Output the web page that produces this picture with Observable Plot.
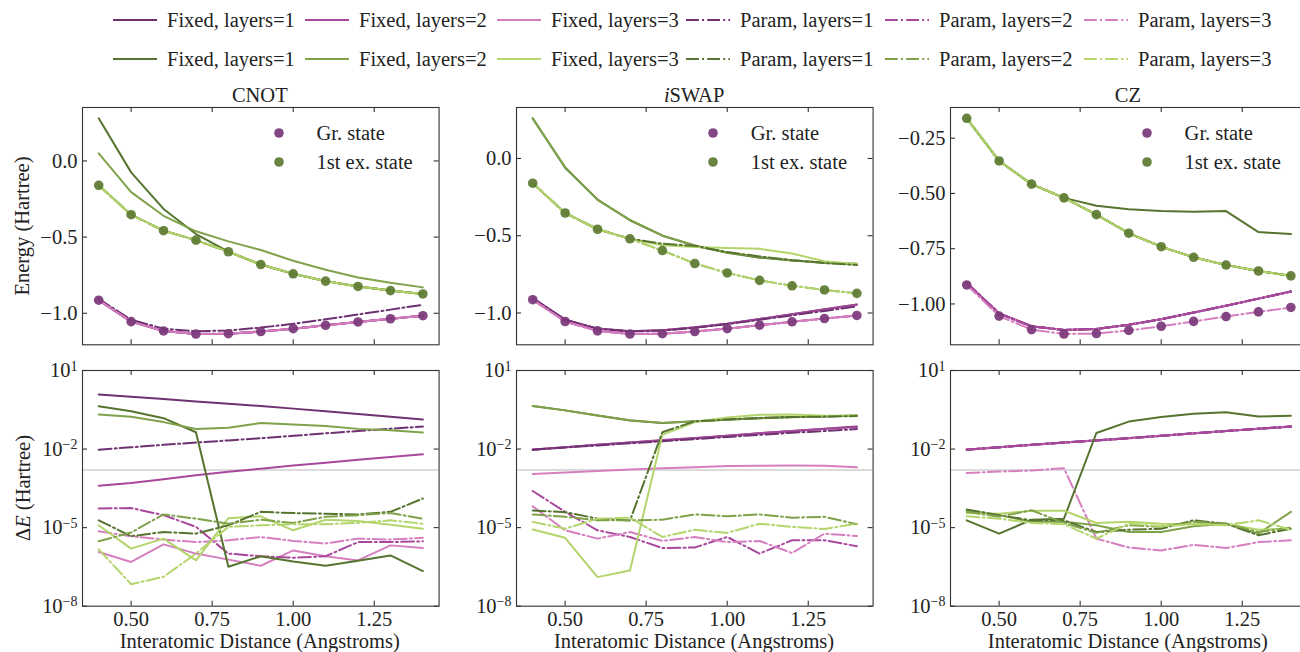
<!DOCTYPE html>
<html>
<head>
<meta charset="utf-8">
<script src="https://cdn.jsdelivr.net/npm/d3@7"></script>
<script src="https://cdn.jsdelivr.net/npm/@observablehq/plot@0.6"></script>
<style>
  html, body { margin: 0; padding: 0; background: #fff; overflow: hidden; }
  #fig { position: relative; width: 1300px; height: 652px; overflow: hidden;
         font-family: "Liberation Serif", "DejaVu Serif", serif; color: #222; font-size: 20.5px; }
  .abs { position: absolute; white-space: nowrap; }
  .center { transform: translate(-50%, -50%); }
  .leg { position: absolute; display: flex; align-items: center; height: 24px; white-space: nowrap; }
  .leg svg { margin-right: 10px; }
  .dotleg { position: absolute; display: flex; align-items: center; height: 24px; white-space: nowrap; }
</style>
</head>
<body>
<div id="fig"></div>
<script>
// ---------------- data ----------------
const distance = [0.4, 0.5, 0.6, 0.7, 0.8, 0.9, 1.0, 1.1, 1.2, 1.3, 1.4];
const gateNames = ["CNOT", "iSWAP", "CZ"];
const ansatzLabels = ["Fixed, layers=1", "Fixed, layers=2", "Fixed, layers=3",
                      "Param, layers=1", "Param, layers=2", "Param, layers=3"];
const groundColors = ["#6e3171", "#a8489c", "#d67fc0", "#6e3171", "#a8489c", "#d67fc0"];
const excitedColors = ["#56742f", "#7fa24a", "#b3d56c", "#56742f", "#7fa24a", "#b3d56c"];
const stateLabels = ["Gr. state", "1st ex. state"];
const stateDotColors = ["#7a3779", "#5b7a30"];
const xTicks = [0.5, 0.75, 1.0, 1.25];
const energyTicksCNOT = [0, -0.5, -1.0];
const energyTicksISWAP = [0, -0.5, -1.0];
const energyTicksCZ = [-0.25, -0.5, -0.75, -1.0];
const deltaTicks = [10, 1e-2, 1e-5, 1e-8];
const deltaDomain = [1e-8, 10];
const chemicalAccuracy = 1.6e-3;

// exact energies (Hartree)
const exactGround  = [-0.914, -1.055, -1.116, -1.136, -1.134, -1.120, -1.101, -1.079, -1.057, -1.036, -1.016];
const exactExcited = [-0.160, -0.353, -0.458, -0.520, -0.596, -0.680, -0.741, -0.789, -0.824, -0.851, -0.873];

// VQE energies that visibly differ from the exact curves (top row)
const cnotGroundParam1   = [-0.905, -1.043, -1.101, -1.118, -1.113, -1.094, -1.069, -1.039, -1.008, -0.976, -0.944];
const cnotExcitedFixed1  = [0.280, -0.075, -0.315, -0.480, -0.596, -0.680, -0.741, -0.789, -0.824, -0.851, -0.873];
const cnotExcitedFixed2  = [0.050, -0.205, -0.360, -0.462, -0.528, -0.585, -0.655, -0.714, -0.765, -0.800, -0.830];
const iswapGroundFixed1  = [-0.905, -1.043, -1.101, -1.118, -1.112, -1.094, -1.069, -1.039, -1.008, -0.976, -0.945];
const iswapGroundFixed2  = [-0.904, -1.043, -1.101, -1.118, -1.112, -1.093, -1.069, -1.039, -1.008, -0.977, -0.946];
const iswapGroundParam1  = [-0.905, -1.044, -1.102, -1.119, -1.114, -1.096, -1.072, -1.044, -1.015, -0.987, -0.958];
const iswapExcitedFixed1 = [0.260, -0.060, -0.266, -0.400, -0.500, -0.563, -0.610, -0.642, -0.660, -0.674, -0.682];
const iswapExcitedFixed2 = [0.258, -0.056, -0.268, -0.397, -0.498, -0.566, -0.608, -0.638, -0.659, -0.676, -0.683];
const iswapExcitedFixed3 = [-0.160, -0.353, -0.458, -0.520, -0.562, -0.573, -0.579, -0.585, -0.615, -0.665, -0.683];
const iswapExcitedParam1 = [-0.160, -0.353, -0.458, -0.520, -0.552, -0.565, -0.606, -0.634, -0.658, -0.677, -0.690];
const czGroundUpper      = [-0.905, -1.043, -1.101, -1.118, -1.113, -1.094, -1.069, -1.039, -1.008, -0.976, -0.944];
const czExcitedFixed1    = [-0.160, -0.353, -0.458, -0.520, -0.556, -0.572, -0.580, -0.583, -0.580, -0.675, -0.684];

// per gate: [Fixed1, Fixed2, Fixed3, Param1, Param2, Param3]
const cnotEnergyGround   = [exactGround, exactGround, exactGround, cnotGroundParam1, exactGround, exactGround];
const cnotEnergyExcited  = [cnotExcitedFixed1, cnotExcitedFixed2, exactExcited, exactExcited, exactExcited, exactExcited];
const iswapEnergyGround  = [iswapGroundFixed1, iswapGroundFixed2, exactGround, iswapGroundParam1, exactGround, exactGround];
const iswapEnergyExcited = [iswapExcitedFixed1, iswapExcitedFixed2, iswapExcitedFixed3, iswapExcitedParam1, exactExcited, exactExcited];
const czEnergyGround     = [czGroundUpper, czGroundUpper, czGroundUpper, czGroundUpper, czGroundUpper, exactGround];
const czEnergyExcited    = [czExcitedFixed1, exactExcited, exactExcited, exactExcited, exactExcited, exactExcited];

// energy errors ΔE (Hartree), bottom row
const cnotDeltaGround = [
  [1.21, 1.0, 0.81, 0.66, 0.54, 0.44, 0.35, 0.28, 0.22, 0.17, 0.135],
  [4.0e-4, 5.1e-4, 7.1e-4, 1.0e-3, 1.35e-3, 1.78e-3, 2.34e-3, 3.0e-3, 3.9e-3, 5.0e-3, 6.3e-3],
  [1.17e-6, 4.9e-7, 2.3e-6, 1.02e-6, 6.0e-7, 3.5e-7, 1.35e-6, 8.1e-7, 5.6e-7, 2.1e-6, 1.66e-6],
  [9.5e-3, 1.17e-2, 1.45e-2, 1.78e-2, 2.14e-2, 2.6e-2, 3.2e-2, 4.0e-2, 4.9e-2, 6.0e-2, 7.2e-2],
  [5.4e-5, 5.6e-5, 3.0e-5, 1.07e-5, 1.02e-6, 8.1e-7, 7.1e-7, 8.1e-7, 2.8e-6, 2.8e-6, 3.0e-6],
  [7.2e-6, 4.7e-6, 3.5e-6, 2.8e-6, 3.3e-6, 4.4e-6, 3.1e-6, 2.5e-6, 3.8e-6, 3.5e-6, 4.1e-6]
];
const cnotDeltaExcited = [
  [0.435, 0.28, 0.151, 0.044, 3.2e-7, 8.1e-7, 5.1e-7, 3.5e-7, 5.4e-7, 8.7e-7, 2.2e-7],
  [0.209, 0.17, 0.107, 0.058, 0.065, 0.098, 0.087, 0.076, 0.059, 0.052, 0.043],
  [1.23e-5, 1.58e-6, 3.8e-6, 5.6e-7, 2.3e-5, 2.7e-5, 7.9e-6, 2.0e-5, 1.78e-5, 1.29e-5, 9.1e-6],
  [1.9e-5, 4.7e-6, 6.8e-6, 5.9e-6, 1.23e-5, 4.0e-5, 3.6e-5, 3.4e-5, 3.2e-5, 4.0e-5, 1.29e-4],
  [3.0e-6, 6.5e-6, 3.2e-5, 2.2e-5, 1.41e-5, 2.0e-5, 1.51e-5, 2.6e-5, 3.0e-5, 3.6e-5, 2.2e-5],
  [1.48e-6, 6.9e-8, 1.32e-7, 1.02e-6, 1.07e-5, 1.23e-5, 1.35e-5, 1.35e-5, 1.51e-5, 1.9e-5, 1.41e-5]
];
const iswapDeltaGround = [
  [9.5e-3, 1.17e-2, 1.45e-2, 1.78e-2, 2.14e-2, 2.6e-2, 3.2e-2, 4.0e-2, 4.9e-2, 6.0e-2, 7.2e-2],
  [9.6e-3, 1.18e-2, 1.46e-2, 1.8e-2, 2.2e-2, 2.65e-2, 3.25e-2, 4.0e-2, 4.9e-2, 5.9e-2, 7.0e-2],
  [1.12e-3, 1.26e-3, 1.45e-3, 1.66e-3, 1.86e-3, 2.04e-3, 2.24e-3, 2.3e-3, 2.34e-3, 2.3e-3, 2.0e-3],
  [9.5e-3, 1.15e-2, 1.38e-2, 1.66e-2, 2.0e-2, 2.4e-2, 2.9e-2, 3.5e-2, 4.2e-2, 4.9e-2, 5.8e-2],
  [2.5e-4, 4.0e-5, 7.9e-6, 4.4e-6, 1.66e-6, 1.74e-6, 4.4e-6, 1.02e-6, 3.3e-6, 3.3e-6, 1.95e-6],
  [6.5e-5, 7.9e-6, 3.8e-6, 6.8e-6, 3.1e-6, 4.4e-6, 2.8e-6, 3.1e-6, 1.07e-6, 5.9e-6, 4.8e-6]
];
const iswapDeltaExcited = [
  [0.44, 0.30, 0.19, 0.123, 0.098, 0.115, 0.135, 0.151, 0.166, 0.174, 0.19],
  [0.44, 0.30, 0.19, 0.125, 0.10, 0.113, 0.133, 0.15, 0.165, 0.175, 0.19],
  [8.5e-6, 4.1e-6, 1.29e-7, 2.3e-7, 0.035, 0.107, 0.162, 0.204, 0.209, 0.186, 0.19],
  [4.5e-5, 3.9e-5, 2.2e-5, 1.86e-5, 0.044, 0.115, 0.135, 0.155, 0.166, 0.174, 0.182],
  [3.2e-5, 2.6e-5, 1.9e-5, 1.9e-5, 2.0e-5, 3.2e-5, 2.7e-5, 3.2e-5, 2.4e-5, 2.6e-5, 1.35e-5],
  [1.66e-5, 9.1e-6, 2.2e-5, 2.4e-5, 4.4e-6, 8.3e-6, 6.3e-6, 1.41e-5, 1.07e-5, 8.9e-6, 1.41e-5]
];
const czDeltaGround = [
  [9.5e-3, 1.17e-2, 1.45e-2, 1.78e-2, 2.14e-2, 2.6e-2, 3.2e-2, 4.0e-2, 4.9e-2, 6.0e-2, 7.2e-2],
  [9.6e-3, 1.18e-2, 1.46e-2, 1.79e-2, 2.16e-2, 2.62e-2, 3.2e-2, 3.95e-2, 4.85e-2, 5.95e-2, 7.1e-2],
  [9.5e-3, 1.16e-2, 1.44e-2, 1.77e-2, 2.13e-2, 2.6e-2, 3.2e-2, 4.0e-2, 4.9e-2, 6.0e-2, 7.2e-2],
  [9.5e-3, 1.17e-2, 1.45e-2, 1.78e-2, 2.14e-2, 2.6e-2, 3.2e-2, 4.0e-2, 4.9e-2, 6.0e-2, 7.2e-2],
  [9.6e-3, 1.17e-2, 1.45e-2, 1.78e-2, 2.15e-2, 2.6e-2, 3.2e-2, 4.0e-2, 4.9e-2, 6.0e-2, 7.2e-2],
  [1.23e-3, 1.38e-3, 1.51e-3, 1.86e-3, 3.8e-6, 1.74e-6, 1.35e-6, 2.2e-6, 1.66e-6, 2.8e-6, 3.3e-6]
];
const czDeltaExcited = [
  [1.9e-5, 5.9e-6, 2.0e-5, 2.2e-5, 0.041, 0.112, 0.166, 0.224, 0.257, 0.174, 0.186],
  [4.6e-5, 3.0e-5, 1.66e-5, 1.66e-5, 1.23e-5, 6.8e-6, 6.8e-6, 1.12e-5, 1.41e-5, 5.9e-6, 4.0e-5],
  [3.6e-5, 3.4e-5, 4.4e-5, 4.4e-5, 1.51e-5, 1.66e-5, 1.41e-5, 1.35e-5, 1.41e-5, 8.3e-6, 9.1e-6],
  [4.9e-5, 3.0e-5, 1.9e-5, 1.9e-5, 6.8e-6, 8.3e-6, 9.1e-6, 1.9e-5, 1.41e-5, 5.1e-6, 9.1e-6],
  [4.0e-5, 2.6e-5, 4.6e-5, 1.51e-5, 6.3e-6, 1.23e-5, 1.07e-5, 1.66e-5, 1.41e-5, 6.8e-6, 1.0e-5],
  [2.7e-5, 2.2e-5, 1.51e-5, 1.35e-5, 3.8e-6, 1.41e-5, 1.12e-5, 1.35e-5, 1.23e-5, 1.9e-5, 8.3e-6]
];

const energyGround  = [cnotEnergyGround, iswapEnergyGround, czEnergyGround];
const energyExcited = [cnotEnergyExcited, iswapEnergyExcited, czEnergyExcited];
const deltaGround   = [cnotDeltaGround, iswapDeltaGround, czDeltaGround];
const deltaExcited  = [cnotDeltaExcited, iswapDeltaExcited, czDeltaExcited];
const energyTicks   = [energyTicksCNOT, energyTicksISWAP, energyTicksCZ];

// ---------------- layout ----------------
const fig = document.getElementById("fig");
const FONT = '"Liberation Serif", "DejaVu Serif", serif';
const INK = "#333";
const DASH = "12.8,3.2,2,3.2";
const frameLefts = [81.5, 515.8, 949.6];
const frameW = 356.6;
const topFrame = {y: 106.7, h: 237.3};
const botFrame = {y: 370, h: 235.7};
const M = {l: 70, r: 14, t: 12, b: 45};
const TICK = 5;

function pad(ext) { const d = (ext[1] - ext[0]) * 0.05; return [ext[0] - d, ext[1] + d]; }
const xDomain = pad(d3.extent(distance));
const supMinus = s => s.replace("-", "\u2212");

function makePanel(gi, isTop) {
  const left = frameLefts[gi];
  const fr = isTop ? topFrame : botFrame;
  const gSeries = isTop ? energyGround[gi] : deltaGround[gi];
  const eSeries = isTop ? energyExcited[gi] : deltaExcited[gi];
  const yt = isTop ? energyTicks[gi] : deltaTicks;
  const toRows = arr => arr.map((v, i) => ({x: distance[i], y: v}));

  let yScale;
  if (isTop) {
    const all = [...gSeries.flat(), ...eSeries.flat(), ...exactGround, ...exactExcited];
    yScale = {domain: pad(d3.extent(all)), axis: null};
  } else {
    yScale = {type: "log", domain: deltaDomain, axis: null};
  }

  const marks = [];
  if (!isTop) marks.push(Plot.ruleY([chemicalAccuracy], {stroke: "#cfcfcf", strokeWidth: 1.5}));
  [[gSeries, groundColors], [eSeries, excitedColors]].forEach(([series, colors]) => {
    series.forEach((arr, k) => {
      marks.push(Plot.line(toRows(arr), {
        x: "x", y: "y", stroke: colors[k], strokeWidth: 2,
        strokeDasharray: k >= 3 ? DASH : undefined
      }));
    });
  });
  if (isTop) {
    marks.push(Plot.dot(toRows(exactGround), {x: "x", y: "y", r: 4.8, fill: stateDotColors[0], fillOpacity: 0.92}));
    marks.push(Plot.dot(toRows(exactExcited), {x: "x", y: "y", r: 4.8, fill: stateDotColors[1], fillOpacity: 0.92}));
  }
  marks.push(Plot.frame({stroke: INK, strokeWidth: 1.1}));
  marks.push(Plot.ruleX(xTicks, {x: d => d, insetTop: fr.h - TICK, stroke: INK, strokeWidth: 1.1}));
  marks.push(Plot.ruleX(xTicks, {x: d => d, insetBottom: fr.h - TICK, stroke: INK, strokeWidth: 1.1}));
  marks.push(Plot.ruleY(yt, {y: d => d, insetRight: frameW - TICK, stroke: INK, strokeWidth: 1.1}));
  marks.push(Plot.ruleY(yt, {y: d => d, insetLeft: frameW - TICK, stroke: INK, strokeWidth: 1.1}));
  marks.push(Plot.axisY({
    ticks: yt, tickSize: 0, tickPadding: 5, label: null,
    tickFormat: isTop ? d3.format(gi === 2 ? ".2f" : ".1f") : (d => "10^" + Math.round(Math.log10(d)))
  }));
  if (!isTop) marks.push(Plot.axisX({ticks: xTicks, tickSize: 0, tickPadding: 5, label: null, tickFormat: d3.format(".2f")}));

  const svg = Plot.plot({
    width: M.l + frameW + M.r, height: M.t + fr.h + M.b,
    marginLeft: M.l, marginRight: M.r, marginTop: M.t, marginBottom: M.b,
    style: {fontFamily: FONT, fontSize: "20.5px", color: "#222", background: "transparent", overflow: "visible", maxWidth: "none"},
    x: {domain: xDomain, axis: null},
    y: yScale,
    marks
  });
  svg.style.position = "absolute";
  svg.style.left = (left - M.l) + "px";
  svg.style.top = (fr.y - M.t) + "px";
  d3.select(svg).selectAll("text").each(function() {
    const t = this.textContent;
    if (t.startsWith("10^")) {
      const e = t.slice(3);
      const sel = d3.select(this);
      sel.text("");
      sel.append("tspan").text("10");
      sel.append("tspan").attr("dy", "-0.45em").attr("font-size", "14px").text(supMinus(e));
    }
  });
  fig.appendChild(svg);
}

for (let gi = 0; gi < 3; gi++) { makePanel(gi, true); makePanel(gi, false); }

// ---------------- text ----------------
function addDiv(html, x, y, extra = "") {
  const d = document.createElement("div");
  d.className = "abs center";
  d.style.cssText += `left:${x}px;top:${y}px;${extra}`;
  d.innerHTML = html;
  fig.appendChild(d);
  return d;
}
const titleHTML = ["CNOT", "<i>i</i>SWAP", "CZ"];
gateNames.forEach((g, gi) => {
  addDiv(titleHTML[gi], frameLefts[gi] + frameW / 2, 95);
  addDiv("Interatomic Distance (Angstroms)", frameLefts[gi] + frameW / 2, 641);
});
addDiv("Energy (Hartree)", 22, 226, "transform: translate(-50%,-50%) rotate(-90deg);");
addDiv("\u0394<i>E</i> (Hartree)", 23, 488, "transform: translate(-50%,-50%) rotate(-90deg);");

gateNames.forEach((g, gi) => {
  stateLabels.forEach((lab, si) => {
    const cy = [133, 162][si];
    const d = document.createElement("div");
    d.className = "dotleg";
    d.style.left = (frameLefts[gi] + 192) + "px";
    d.style.top = (cy - 12) + "px";
    d.innerHTML = `<svg width="10" height="10" style="margin-right:33px"><circle cx="5" cy="5" r="4.8" fill="${stateDotColors[si]}" fill-opacity="0.92"/></svg><span>${lab}</span>`;
    fig.appendChild(d);
  });
});

const legendX = [113, 305, 497, 686, 885, 1084];
const legendRowsY = [20, 59];
[groundColors, excitedColors].forEach((colors, row) => {
  ansatzLabels.forEach((lab, k) => {
    const d = document.createElement("div");
    d.className = "leg";
    d.style.left = legendX[k] + "px";
    d.style.top = (legendRowsY[row] - 12) + "px";
    d.innerHTML = `<svg width="44" height="6"><line x1="0" x2="44" y1="3" y2="3" stroke="${colors[k]}" stroke-width="2.2" ${k >= 3 ? `stroke-dasharray="${DASH}"` : ""}/></svg><span>${lab}</span>`;
    fig.appendChild(d);
  });
});
</script>
</body>
</html>
